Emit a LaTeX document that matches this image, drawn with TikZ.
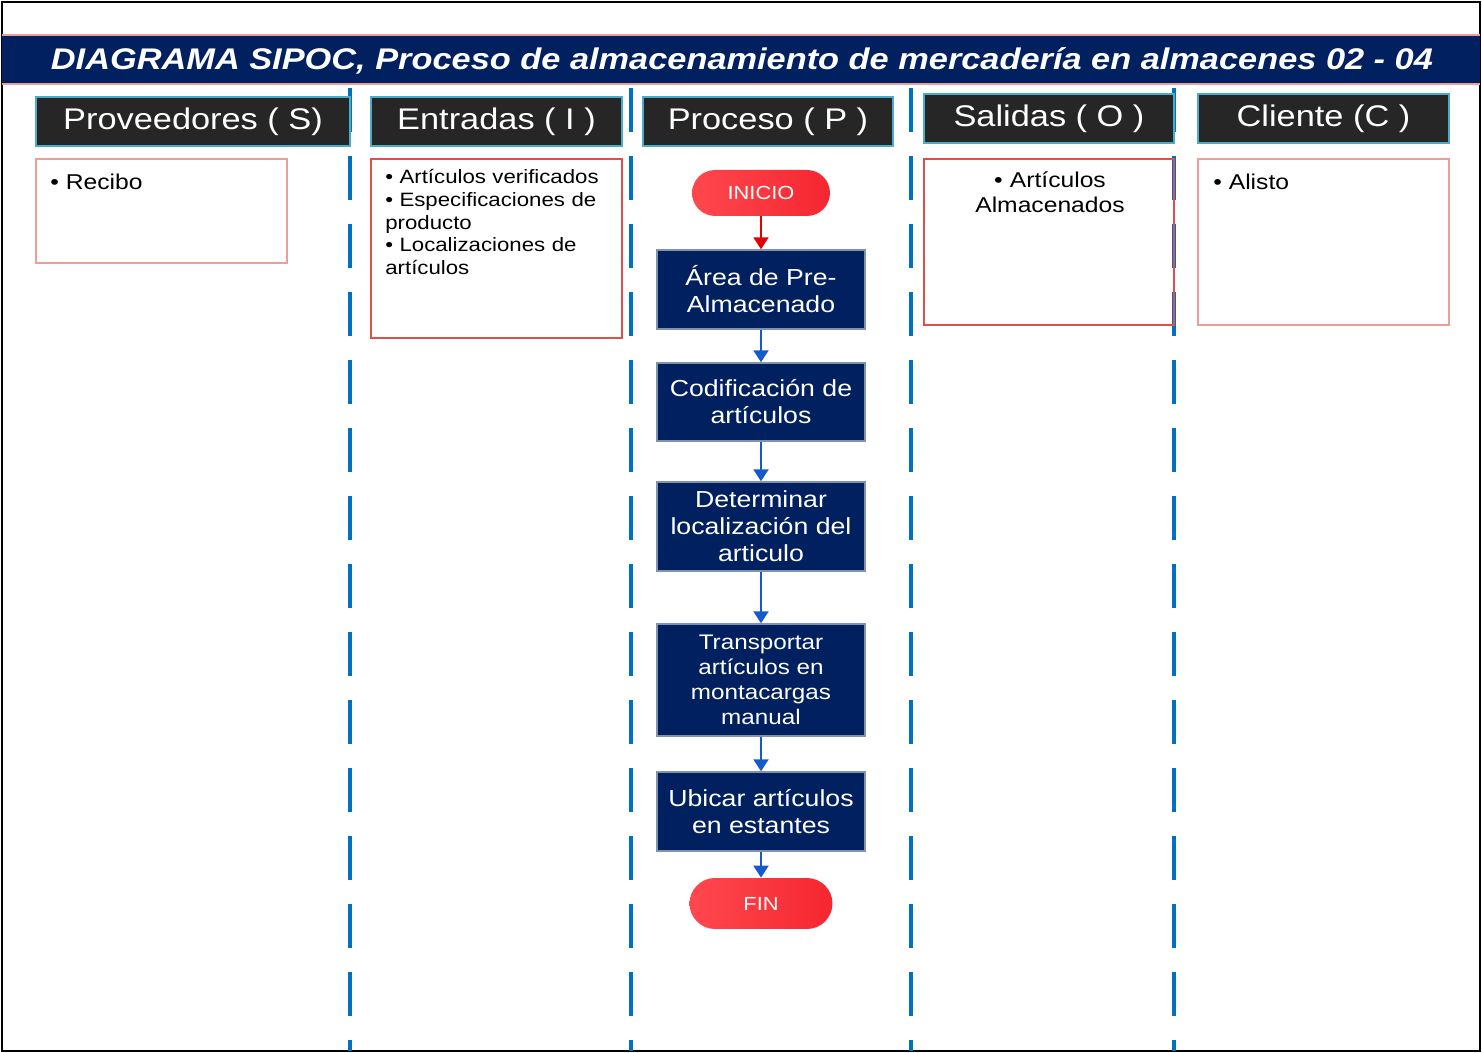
\documentclass[tikz,border=0pt]{standalone}
\usepackage{fontspec}
\setmainfont{Liberation Sans}[FakeStretch=1.15]
\usetikzlibrary{arrows.meta}
\definecolor{navy}{RGB}{0,32,96}
\definecolor{hdr}{RGB}{38,38,38}
\definecolor{hdrline}{RGB}{75,172,198}
\definecolor{lane}{RGB}{0,112,192}
\definecolor{boxred}{RGB}{224,80,74}
\definecolor{boxpink}{RGB}{236,158,152}
\definecolor{pillA}{RGB}{255,72,78}
\definecolor{pillB}{RGB}{245,38,48}
\definecolor{flow}{RGB}{21,90,205}
\definecolor{navyline}{RGB}{128,146,172}
\newcommand{\fs}[2]{\fontsize{#1}{#2}\selectfont}
\begin{document}
\begin{tikzpicture}[x=0.02cm,y=-0.02cm,
  head/.style={fill=hdr,draw=hdrline,line width=1.1pt,text=white,minimum width=#1,minimum height=0.98cm,inner sep=0pt,font=\fs{17}{20}},
  frame/.style={draw=#1,line width=0.8pt,minimum width=5.02cm,inner sep=0pt},
  txt/.style={inner sep=0pt,font=\fs{12.2}{14.2}},
  pbox/.style={fill=navy,draw=navyline,line width=0.8pt,text=white,minimum width=4.16cm,align=center,inner sep=0pt,font=\fs{13.2}{15.4}},
  pill/.style={left color=pillA,right color=pillB,text=white,rounded corners=0.46cm,minimum height=0.92cm,inner sep=0pt,font=\fs{10.8}{12}},
  flowarrow/.style={draw=flow,line width=1.2pt,-{Triangle[length=0.24cm,width=0.3cm]}}]
\useasboundingbox (0,0) rectangle (1482,1053);
\draw[line width=1pt] (2,2) rectangle (1480,1051);
% title band
\fill[navy] (2,36) rectangle (1480,83);
\draw[boxpink,line width=0.8pt] (2,35) -- (1480,35) (2,84) -- (1480,84);
\node[text=white,font=\fs{17}{20}\bfseries\itshape] (title) at (742,61)
  {DIAGRAMA SIPOC, Proceso de almacenamiento de mercadería en almacenes 02 - 04};
% lanes
\foreach \x in {350,631,911,1174}
  \draw[lane,line width=1.8pt,dash pattern=on 25pt off 13.7pt] (\x,88) -- (\x,1051);
% headers
\node[head=6.28cm] (hS) at (193,121.5) {Proveedores ( S)};
\node[head=5.02cm] (hI) at (496.5,121.5) {Entradas ( I )};
\node[head=5cm] (hP) at (768,121.5) {Proceso ( P )};
\node[head=5cm] (hO) at (1049,118.5) {Salidas ( O )};
\node[head=5.02cm] (hC) at (1323.5,118.5) {Cliente (C )};
% boxes
\node[frame=boxpink,minimum height=2.08cm] (bS) at (161.5,211) {};
\node[frame=boxred,minimum height=3.58cm] (bI) at (496.5,248.5) {};
\node[frame=boxred,minimum width=5cm,minimum height=3.32cm] (bO) at (1049,242) {};
\node[frame=boxpink,minimum height=3.32cm] (bC) at (1323.5,242) {};
\node[txt,anchor=base west] (tS) at (50,190) {• Recibo};
\node[txt,anchor=base west,text width=4.7cm,align=left,font=\fs{11}{12.9}] (tI) at (385,184)
  {• Artículos verificados\\• Especificaciones de\\producto\\• Localizaciones de\\artículos};
\node[txt,anchor=base,text width=4.6cm,align=center] (tO) at (1050,188) {• Artículos\\Almacenados};
\node[txt,anchor=base west] (tC) at (1213,190) {• Alisto};
% process
\node[pill,minimum width=2.76cm] (inicio) at (761,193) {INICIO};
\node[pbox,minimum height=1.58cm] (area) at (761,289.5) {Área de Pre-\\Almacenado};
\node[pbox,minimum height=1.56cm] (codif) at (761,402) {Codificación de\\artículos};
\node[pbox,minimum height=1.78cm] (local) at (761,526.5) {Determinar\\localización del\\articulo};
\node[pbox,minimum height=2.24cm,font=\fs{12}{14.2}] (transp) at (761,680) {Transportar\\artículos en\\montacargas\\manual};
\node[pbox,minimum height=1.58cm] (ubicar) at (761,811.5) {Ubicar artículos\\en estantes};
\node[pill,minimum width=2.86cm,minimum height=1.02cm,rounded corners=0.51cm] (fin) at (761,903.5) {FIN};
\draw[flowarrow,draw=red!90!black] (inicio) -- (area);
\draw[flowarrow] (area) -- (codif);
\draw[flowarrow] (codif) -- (local);
\draw[flowarrow] (local) -- (transp);
\draw[flowarrow] (transp) -- (ubicar);
\draw[flowarrow] (ubicar) -- (fin);
\end{tikzpicture}
\end{document}
